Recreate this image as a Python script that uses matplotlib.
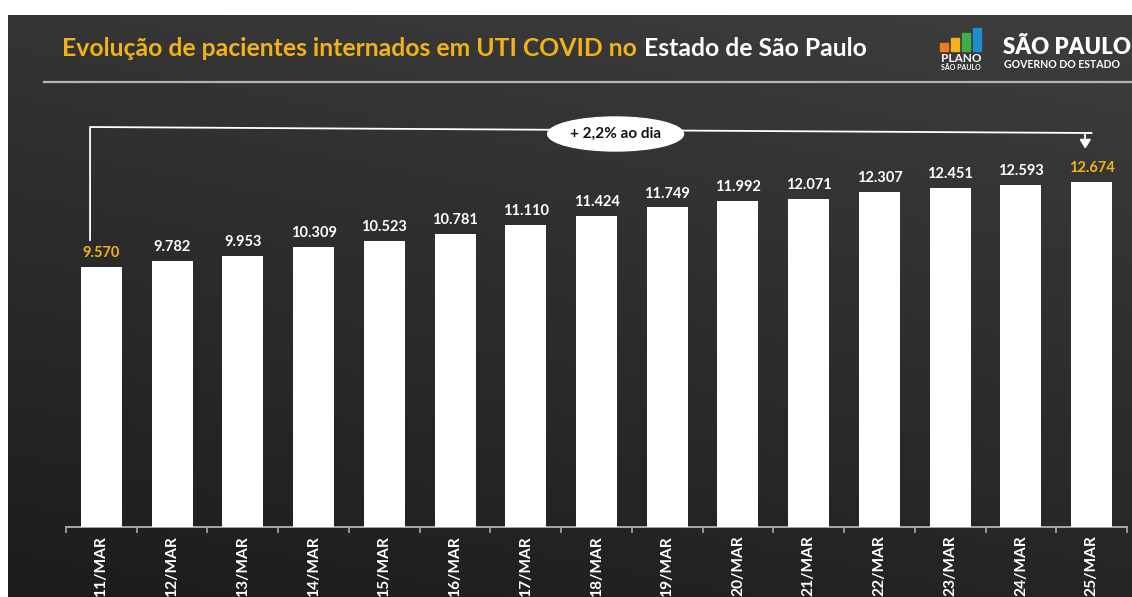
import numpy as np
import matplotlib
matplotlib.use("Agg")
import matplotlib.pyplot as plt
from matplotlib.patches import Ellipse, Rectangle, Polygon

# data
dias = ["11/MAR", "12/MAR", "13/MAR", "14/MAR", "15/MAR", "16/MAR", "17/MAR", "18/MAR",
        "19/MAR", "20/MAR", "21/MAR", "22/MAR", "23/MAR", "24/MAR", "25/MAR"]
internados = [9570, 9782, 9953, 10309, 10523, 10781, 11110, 11424,
              11749, 11992, 12071, 12307, 12451, 12593, 12674]
rotulos = ["9.570", "9.782", "9.953", "10.309", "10.523", "10.781", "11.110", "11.424",
           "11.749", "11.992", "12.071", "12.307", "12.451", "12.593", "12.674"]
titulo_1 = "Evolução de pacientes internados em UTI COVID no"
titulo_2 = "Estado de São Paulo"
crescimento = "+ 2,2% ao dia"

W, H = 1132, 597
ORANGE = "#f2b316"
plt.rcParams["font.family"] = ["Lato", "DejaVu Sans"]

fig = plt.figure(figsize=(W / 100, H / 100), dpi=100, facecolor="white")

# dark background panel with soft gradient
bg = fig.add_axes([8 / W, 0, 1 - 8 / W, 1 - 15 / H])
yy, xx = np.mgrid[0:1:200j, 0:1:400j]
g = 0.205 - 0.095 * yy + 0.035 * xx
bg.imshow(np.dstack([g, g, g]), aspect="auto", extent=(0, 1, 0, 1), origin="upper")
bg.set_axis_off()

# separator line under the title
fig.add_artist(plt.Line2D([44 / W, 1], [1 - 82 / H] * 2, color="#b4b4b4", lw=1.6))

# title in two colours
t1 = fig.text(62 / W, 1 - 48 / H, titulo_1, color=ORANGE, fontsize=17.8,
              fontweight="bold", va="center", ha="left")
fig.canvas.draw()
bb = t1.get_window_extent()
fig.text(bb.x1 / W + 7 / W, 1 - 48 / H, titulo_2, color="white", fontsize=17.8,
         fontweight="bold", va="center", ha="left")

# logos (approximate)
logo_cores = ["#f07c1e", "#f5b21a", "#3fae49", "#1f8bd0"]
logo_alt = [8, 13, 18, 23]
for i, (c, h) in enumerate(zip(logo_cores, logo_alt)):
    fig.add_artist(Rectangle(((940 + i * 11) / W, 1 - 51 / H), 8 / W, h / H,
                             color=c, transform=fig.transFigure))
fig.text(961 / W, 1 - 59 / H, "PLANO", color="white", fontsize=8.5,
         fontweight="bold", ha="center", va="center")
fig.text(961 / W, 1 - 67 / H, "SÃO PAULO", color="white", fontsize=5,
         fontweight="bold", ha="center", va="center")
fig.text(1003 / W, 1 - 47 / H, "SÃO PAULO", color="white", fontsize=16,
         fontweight="heavy", ha="left", va="center")
fig.text(1004 / W, 1 - 65 / H, "GOVERNO DO ESTADO", color="white", fontsize=7.6,
         fontweight="bold", ha="left", va="center")

# main chart
ax = fig.add_axes([66 / W, 70 / H, (1127 - 66) / W, 427 / H])
ax.patch.set_alpha(0)
x = np.arange(len(dias))
ax.bar(x, internados, width=0.58, color="white", zorder=3)
ax.set_xlim(-0.5, len(dias) - 0.5)
ax.set_ylim(0, 15700)

for i, (v, r) in enumerate(zip(internados, rotulos)):
    cor = ORANGE if i in (0, len(dias) - 1) else "white"
    ax.annotate(r, (i, v), xytext=(0, 5), textcoords="offset points", ha="center",
                va="bottom", color=cor, fontsize=10.5, fontweight="bold")

for s in ["top", "right", "left"]:
    ax.spines[s].set_visible(False)
ax.spines["bottom"].set_color("#a8a8a8")
ax.spines["bottom"].set_linewidth(1.4)
ax.set_yticks([])
ax.set_xticks(np.arange(-0.5, len(dias)), minor=False)
ax.set_xticklabels([])
ax.tick_params(axis="x", which="major", length=4, color="#a8a8a8", width=1.2)
ax.set_xticks(x, minor=True)
ax.set_xticklabels(dias, minor=True, rotation=90, color="white", fontsize=11.2,
                   fontweight="bold", va="top")
ax.tick_params(axis="x", which="minor", length=0, pad=6)

# bracket with growth annotation
ax.plot([-0.16, -0.16, 14.0, 13.91], [10552, 14707, 14486, 14486], color="white",
        lw=1.3, clip_on=False, zorder=4)
ax.plot([13.91, 13.91], [14486, 14150], color="white", lw=1.3, zorder=4)
ax.add_patch(Polygon([[13.84, 14250], [13.98, 14250], [13.91, 13950]], closed=True,
                     color="white", zorder=4))
ax.add_patch(Ellipse((7.27, 14450), 1.92, 1250, color="white", zorder=5))
ax.text(7.27, 14450, crescimento, ha="center", va="center", color="#111111",
        fontsize=11, fontweight="bold", zorder=6)

fig.savefig("out.png", dpi=100, facecolor=fig.get_facecolor())
